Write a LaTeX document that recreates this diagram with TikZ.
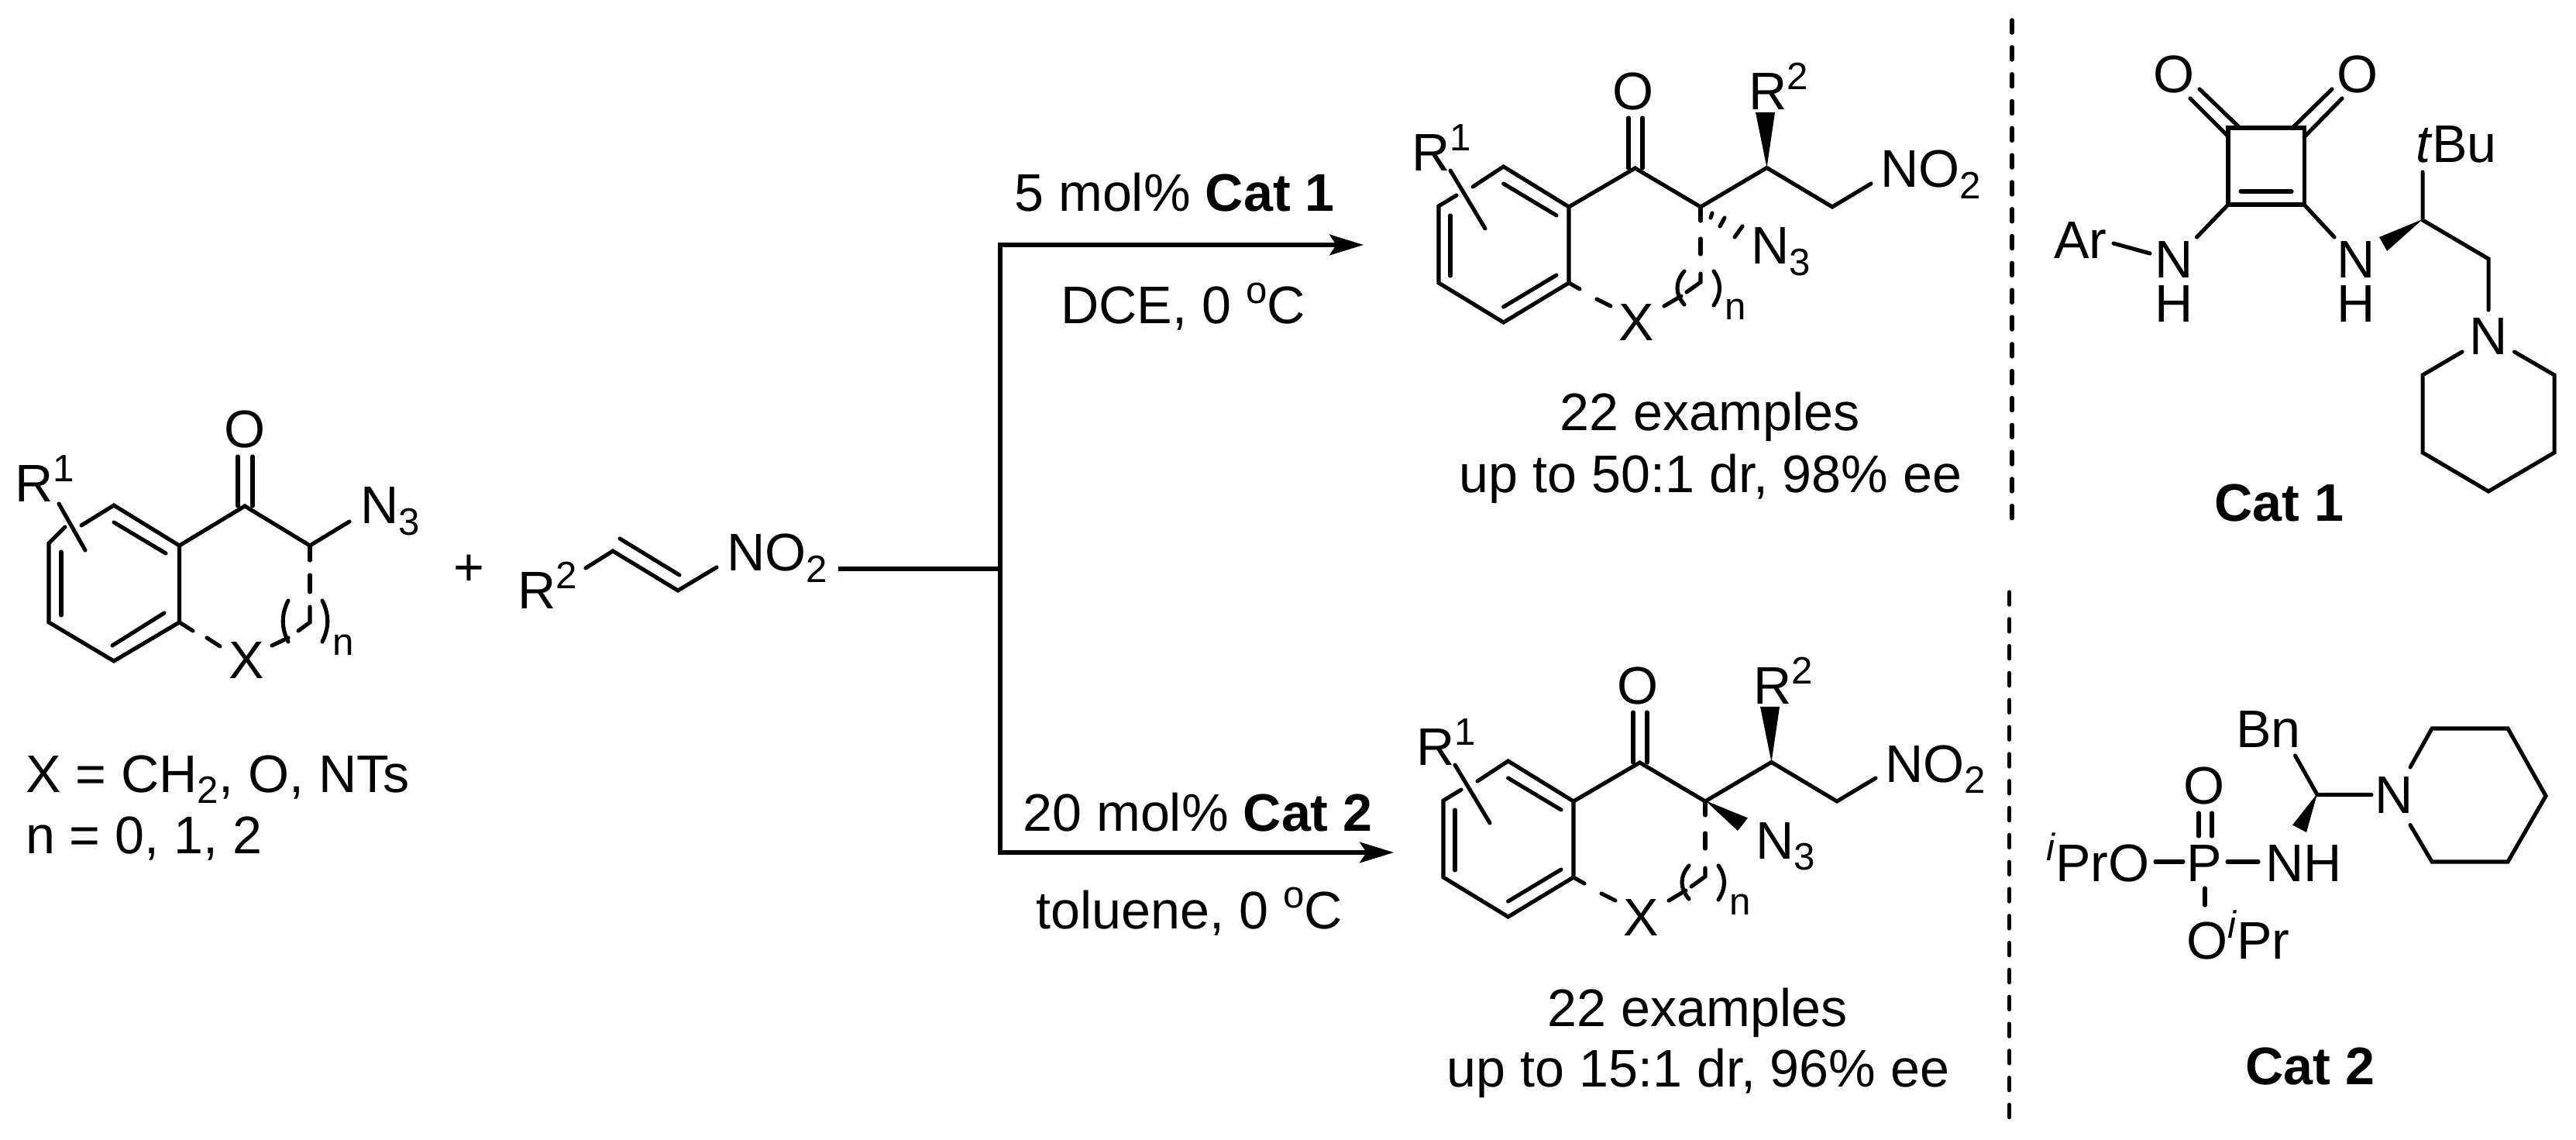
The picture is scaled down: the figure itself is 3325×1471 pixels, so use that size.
\documentclass[tikz,border=0pt]{standalone}
\usepackage{fontspec}
\setmainfont{Liberation Sans}
\usetikzlibrary{arrows.meta}
\newcommand{\sps}[1]{\raisebox{7.6pt}{\fontsize{14}{14}\selectfont #1}}
\newcommand{\sbs}[1]{\raisebox{-4pt}{\fontsize{14}{14}\selectfont #1}}
\tikzset{
  lbl/.style={inner sep=0pt,outer sep=0pt,anchor=base,font=\fontsize{19.4}{19.4}\selectfont},
  lblw/.style={lbl,anchor=base west},
  bond/.style={draw=black,line width=1.45pt,line cap=round,line join=miter},
  rxn/.style={draw=black,line width=1.5pt,line join=miter},
  rxnarrow/.style={rxn,-{Stealth[length=12.5pt,width=7.6pt,inset=2.5pt]}},
  sep/.style={draw=black,line width=1.5pt,line cap=round,dash pattern=on 4.6pt off 5.3pt},
  wedge/.style={fill=black,draw=none}
}
\begin{document}
\begin{tikzpicture}[x=0.01cm,y=-0.01cm]
\useasboundingbox[fill=white] (0,0) rectangle (3325,1471);

% ---------- substrate ----------
\draw[bond] (84,680) -- (63,701) -- (63,803) -- (147,853) -- (231.5,803) -- (231.5,704) -- (147,652) -- (105,678);
\draw[bond] (147,674) -- (214,714);
\draw[bond] (79,712) -- (79,794);
\draw[bond] (145,833) -- (212,791);
\draw[bond] (76,650) -- (110,710);
\draw[bond] (231.5,704) -- (316,653) -- (400,704) -- (451,673);
\draw[bond] (307,589) -- (307,653);
\draw[bond] (326,589) -- (326,653);
\draw[bond] (400,704) -- (400,723);
\draw[bond] (400,742) -- (400,764);
\draw[bond] (400,783) -- (400,803) -- (385,814);
\draw[bond] (372,823) -- (351,833);
\draw[bond] (231.5,803) -- (249,814);
\draw[bond] (267,823) -- (284,834);
\draw[bond] (372,775) .. controls (363,793) and (363,810) .. (372,828);
\draw[bond] (416,775) .. controls (425,793) and (425,810) .. (416,828);
\node[lbl] (subO) at (316,578) {O};
\node[lbl] (subR) at (58,648) {R\sps{1}};
\node[lblw] (subN) at (465,676) {N\sbs{3}};
\node[lbl] (subX) at (318,876) {X};
\node[lbl] (subn) at (443,846) {\fontsize{14}{14}\selectfont n};
\node[lbl] (plus) at (605,756) {+};
\node[lblw] (reR) at (668,786) {R\sps{2}};
\draw[bond] (756,733) -- (791,711) -- (875,762) -- (925,732);
\draw[bond] (800,695) -- (877,742);
\node[lblw] (reNO) at (938,737) {NO\sbs{2}};
\node[lblw] (xeq) at (33,1022) {X = CH\sbs{2}, O, NTs};
\node[lblw] (neq) at (33,1101) {n = 0, 1, 2};

% ---------- reaction arrows ----------
\coordinate (start) at (1082,734);
\coordinate (junction) at (1291,734);
\coordinate (upper) at (1291,316);
\coordinate (lower) at (1291,1100);
\coordinate (tipA) at (1760,316);
\coordinate (tipB) at (1799,1100);
\draw[rxn] (start) -- (junction);
\draw[rxnarrow] (junction) -- (upper) -- (tipA);
\draw[rxnarrow] (junction) -- (lower) -- (tipB);
\node[lbl] (condA1) at (1516,273) {5 mol\% \textbf{Cat 1}};
\node[lbl] (condA2) at (1527,418) {DCE, 0 \sps{o}C};
\node[lbl] (condB1) at (1546,1073) {20 mol\% \textbf{Cat 2}};
\node[lbl] (condB2) at (1535,1198) {toluene, 0 \sps{o}C};

% ---------- product 1 ----------
\begin{scope}
\draw[bond] (1880,252) -- (1857,266) -- (1857,365) -- (1940.6,416) -- (2025,365) -- (2025,267) -- (1940.6,215) -- (1901,241);
\draw[bond] (1940.6,237) -- (2009,278);
\draw[bond] (1872,278) -- (1872,356);
\draw[bond] (1940.6,396) -- (2009,355);
\draw[bond] (1872,220) -- (1917,295);
\draw[bond] (2025,267) -- (2110.5,217) -- (2195,267) -- (2280.5,216.5) -- (2365,267) -- (2415,237);
\draw[bond] (2102,152) -- (2102,217);
\draw[bond] (2120,152) -- (2120,217);
\draw[bond] (2195,267) -- (2195,285);
\draw[bond] (2195,308) -- (2195,328);
\draw[bond] (2195,353) -- (2195,364) -- (2177,377);
\draw[bond] (2170,382) -- (2148,395);
\draw[bond] (2025,365) -- (2039,373);
\draw[bond] (2061,386) -- (2079,395);
\draw[bond] (2174,350) .. controls (2162,364) and (2162,379) .. (2174,393);
\draw[bond] (2212,350) .. controls (2222,364) and (2222,379) .. (2212,394);
\fill[wedge] (2280.5,216.5) -- (2266,145) -- (2291,145) -- cycle;
\draw[bond] (2210,275) -- (2208,281);
\draw[bond] (2226,281) -- (2220,292);
\draw[bond] (2249,292) -- (2239,306);
\node[lbl] (pO) at (2108,142) {O};
\node[lblw] (pR1) at (1822,221) {R\sps{1}};
\node[lblw] (pR2) at (2257,142) {R\sps{2}};
\node[lblw] (pNO) at (2427,242) {NO\sbs{2}};
\node[lblw] (pN) at (2260,341) {N\sbs{3}};
\node[lbl] (pX) at (2112,440) {X};
\node[lbl] (pn) at (2240,413) {\fontsize{14}{14}\selectfont n};
\end{scope}
\node[lbl] (pA1) at (2207,556) {22 examples};
\node[lbl] (pA2) at (2208,636) {up to 50:1 dr, 98\% ee};

% ---------- product 2 ----------
\begin{scope}[shift={(6,767)}]
\draw[bond] (1880,252) -- (1857,266) -- (1857,365) -- (1940.6,416) -- (2025,365) -- (2025,267) -- (1940.6,215) -- (1901,241);
\draw[bond] (1940.6,237) -- (2009,278);
\draw[bond] (1872,278) -- (1872,356);
\draw[bond] (1940.6,396) -- (2009,355);
\draw[bond] (1872,220) -- (1917,295);
\draw[bond] (2025,267) -- (2110.5,217) -- (2195,267) -- (2280.5,216.5) -- (2365,267) -- (2415,237);
\draw[bond] (2102,152) -- (2102,217);
\draw[bond] (2120,152) -- (2120,217);
\draw[bond] (2195,267) -- (2195,285);
\draw[bond] (2195,308) -- (2195,328);
\draw[bond] (2195,353) -- (2195,364) -- (2177,377);
\draw[bond] (2170,382) -- (2148,395);
\draw[bond] (2025,365) -- (2039,373);
\draw[bond] (2061,386) -- (2079,395);
\draw[bond] (2174,350) .. controls (2162,364) and (2162,379) .. (2174,393);
\draw[bond] (2212,350) .. controls (2222,364) and (2222,379) .. (2212,394);
\fill[wedge] (2280.5,216.5) -- (2266,145) -- (2291,145) -- cycle;
\fill[wedge] (2195,266) -- (2250,288.5) -- (2237,305) -- cycle;
\node[lbl] (qO) at (2108,142) {O};
\node[lblw] (qR1) at (1822,221) {R\sps{1}};
\node[lblw] (qR2) at (2257,142) {R\sps{2}};
\node[lblw] (qNO) at (2427,242) {NO\sbs{2}};
\node[lblw] (qN) at (2260,341) {N\sbs{3}};
\node[lbl] (qX) at (2112,440) {X};
\node[lbl] (qn) at (2240,413) {\fontsize{14}{14}\selectfont n};
\end{scope}
\node[lbl] (pB1) at (2191,1324) {22 examples};
\node[lbl] (pB2) at (2192,1402) {up to 15:1 dr, 96\% ee};

% ---------- separators ----------
\coordinate (sepAa) at (2597,26);
\coordinate (sepAb) at (2597,670);
\coordinate (sepBa) at (2593.5,764);
\coordinate (sepBb) at (2593.5,1442);
\draw[sep] (sepAa) -- (sepAb);
\draw[sep] (sepBa) -- (sepBb);

% ---------- Cat 1 ----------
\draw[bond] (2876,165) -- (2974,165) -- (2974,264) -- (2876,264) -- cycle;
\draw[bond] (2892,247) -- (2958,247);
\draw[bond] (2839,115) -- (2889,163);
\draw[bond] (2827,127) -- (2876,176);
\draw[bond] (3010,115) -- (2961,163);
\draw[bond] (3023,127) -- (2974,177);
\draw[bond] (2876,264) -- (2835.5,306);
\draw[bond] (2974,264) -- (3013,306);
\draw[bond] (2728,314) -- (2775,327);
\fill[wedge] (3127,283) -- (3071,306) -- (3081,324) -- cycle;
\draw[bond] (3127,222) -- (3127,284) -- (3212,334) -- (3212,400);
\draw[bond] (3178,454) -- (3127,484) -- (3127,584) -- (3212,634) -- (3297,584) -- (3297,484) -- (3245.5,454);
\node[lbl] (c1Oa) at (2806,120) {O};
\node[lbl] (c1Ob) at (3042.5,120) {O};
\node[lblw] (c1Ar) at (2651,334) {Ar};
\node[lbl] (c1Na) at (2806,359) {N};
\node[lbl] (c1Ha) at (2806,416) {H};
\node[lbl] (c1Nb) at (3041.5,359) {N};
\node[lbl] (c1Hb) at (3041.5,416) {H};
\node[lblw] (c1t) at (3118,210) {\textit{t}Bu};
\node[lbl] (c1N) at (3212,458) {N};
\node[lbl] (c1) at (2942,673) {\textbf{Cat 1}};

% ---------- Cat 2 ----------
\draw[bond] (2838,1049) -- (2838,1079);
\draw[bond] (2855,1049) -- (2855,1079);
\draw[bond] (2782,1112) -- (2818,1112);
\draw[bond] (2875,1112) -- (2915,1112);
\draw[bond] (2846,1146) -- (2846,1168);
\draw[bond] (2962.5,975) -- (2991,1025.5) -- (3061,1025.5);
\fill[wedge] (2991,1024) -- (2959,1064.5) -- (2977,1074) -- cycle;
\draw[bond] (3111,990) -- (3139,940) -- (3237,940) -- (3286,1027) -- (3237,1112) -- (3139,1112) -- (3111,1064.5);
\node[lbl] (c2Oa) at (2845,1037.5) {O};
\node[lblw] (c2iPr) at (2641,1137) {\raisebox{7.6pt}{\fontsize{14}{14}\selectfont\textit{i}}PrO};
\node[lbl] (c2P) at (2845,1137) {P};
\node[lblw] (c2NH) at (2924,1137) {NH};
\node[lblw] (c2Ob) at (2822,1237) {O\raisebox{7.6pt}{\fontsize{14}{14}\selectfont\textit{i}}Pr};
\node[lblw] (c2Bn) at (2886,965) {Bn};
\node[lbl] (c2N) at (3090,1050) {N};
\node[lbl] (c2) at (2982,1399) {\textbf{Cat 2}};
\end{tikzpicture}
\end{document}
